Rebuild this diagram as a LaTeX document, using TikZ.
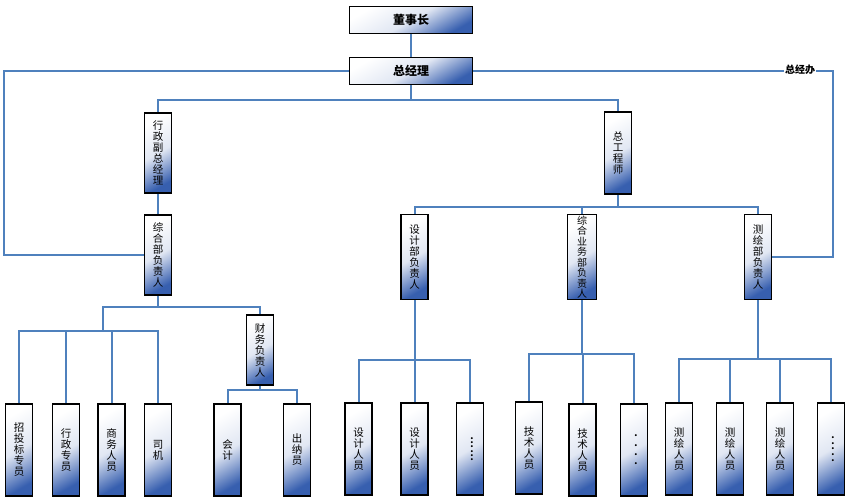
\documentclass[tikz,border=0pt]{standalone}
\usepackage{fontspec}
\newfontfamily\cjk{Noto Sans CJK SC}
\definecolor{xianlan}{RGB}{79,129,189}
\definecolor{jianlan}{RGB}{55,95,175}
\tikzset{
  kuang/.style={draw=black,line width=1.6pt,align=center,inner sep=0pt,
                top color=white,bottom color=jianlan,middle color=white!85!jianlan,
                shading angle=30,font=\cjk\fontsize{10.5}{11}\selectfont},
  hengkuang/.style={kuang,minimum width=123pt,minimum height=27pt,
                    font=\cjk\bfseries\fontsize{12}{14}\selectfont},
  shukuang/.style={kuang,minimum width=27pt,minimum height=#1},
  shukuang/.default=92pt,
  dian/.style={font=\rmfamily\bfseries\fontsize{14}{14}\selectfont},
  xian/.style={draw=xianlan,line width=2pt},
}

\begin{document}
\begin{tikzpicture}[x=1pt,y=-1pt]
  \useasboundingbox (0,0) rectangle (849,502);

  % ---------- VRH ----------
  \node[hengkuang] (dsz) at (411,20) {董事长};
  \node[hengkuang] (zjl) at (411,71) {总经理};

  % ---------- SREDNJI RED ----------
  \node[shukuang=80pt] (xzfz) at (158,153) {行\\政\\副\\总\\经\\理};
  \node[shukuang=80pt] (zhb)  at (158,255) {综\\合\\部\\负\\责\\人};
  \node[shukuang=82pt] (zgc)  at (618,153) {总\\工\\程\\师};
  \node[shukuang=85pt] (sjb)  at (414.5,257) {设\\计\\部\\负\\责\\人};
  \node[shukuang=85pt,minimum width=29pt,font=\cjk\fontsize{10}{10.5}\selectfont]
       (zyb) at (582,257) {综\\合\\业\\务\\部\\负\\责\\人};
  \node[shukuang=85pt] (chb)  at (758,257) {测\\绘\\部\\负\\责\\人};
  \node[shukuang=70pt] (cwfz) at (260,350) {财\\务\\负\\责\\人};

  % ---------- DONJI RED ----------
  \node[shukuang] (ztb)   at (19,450)    {招\\投\\标\\专\\员};
  \node[shukuang] (xzzy)  at (66,450)    {行\\政\\专\\员};
  \node[shukuang] (swry)  at (111.5,450) {商\\务\\人\\员};
  \node[shukuang] (siji)  at (158,450)   {司\\机};
  \node[shukuang] (kj)    at (227.5,450) {会\\计};
  \node[shukuang] (cny)   at (297,450)   {出\\纳\\员};
  \node[shukuang] (sjry1) at (358.5,449) {设\\计\\人\\员};
  \node[shukuang] (sjry2) at (414.5,449) {设\\计\\人\\员};
  \node[shukuang,dian] (sjdd) at (470,449)
       {\rotatebox{-90}{·\hspace{-8pt}·\hspace{-8pt}·\hspace{-8pt}·\hspace{-8pt}·\hspace{-8pt}·}};
  \node[shukuang] (jsry1) at (529,448)   {技\\术\\人\\员};
  \node[shukuang] (jsry2) at (582.5,450) {技\\术\\人\\员};
  \node[shukuang,dian] (jsdd) at (634,450)
       {\rotatebox{-90}{·\hspace{-3pt}·\hspace{-3pt}·\hspace{-3pt}·}};
  \node[shukuang] (chry1) at (679,449)   {测\\绘\\人\\员};
  \node[shukuang] (chry2) at (730,449)   {测\\绘\\人\\员};
  \node[shukuang] (chry3) at (780,449)   {测\\绘\\人\\员};
  \node[shukuang,dian] (chdd) at (831,449)
       {\rotatebox{-90}{·\hspace{-6.5pt}·\hspace{-6.5pt}·\hspace{-6.5pt}·\hspace{-6.5pt}·}};

  % ---------- CVOROVI ----------
  \coordinate (g1) at (411,100);
  \coordinate (g2) at (618,207);
  \coordinate (g3) at (158,307);
  \coordinate (g4) at (103,331);
  \coordinate (g5) at (260,390);
  \coordinate (g6) at (414.5,360);
  \coordinate (g7) at (582,354);
  \coordinate (g8) at (758,359);

  % ---------- VEZE ----------
  \draw[xian] (dsz) -- (zjl);
  \draw[xian] (zjl.west) -- ++(-345,0) |- (zhb.west);
  \draw[xian] (zjl.east) -- ++(360,0) |- (chb.east);
  \draw[xian] (zjl) -- (g1);
  \draw[xian] (xzfz.north) |- (g1) -| (zgc.north);
  \draw[xian] (xzfz) -- (zhb);

  \draw[xian] (zgc) -- (g2);
  \draw[xian] (sjb.north) |- (g2) -| (chb.north);
  \draw[xian] (zyb.north) -- (zyb.north |- g2);

  \draw[xian] (zhb) -- (g3);
  \draw[xian] (g4) |- (g3) -| (cwfz.north);
  \draw[xian] (ztb.north) |- (g4) -| (siji.north);
  \draw[xian] (xzzy.north) -- (xzzy.north |- g4);
  \draw[xian] (swry.north) -- (swry.north |- g4);

  \draw[xian] (cwfz) -- (g5);
  \draw[xian] (kj.north) |- (g5) -| (cny.north);

  \draw[xian] (sjb) -- (sjry2);
  \draw[xian] (sjry1.north) |- (g6) -| (sjdd.north);

  \draw[xian] (zyb) -- (g7);
  \draw[xian] (jsry1.north) |- (g7) -| (jsdd.north);
  \draw[xian] (jsry2.north) -- (jsry2.north |- g7);

  \draw[xian] (chb) -- (g8);
  \draw[xian] (chry1.north) |- (g8) -| (chdd.north);
  \draw[xian] (chry2.north) -- (chry2.north |- g8);
  \draw[xian] (chry3.north) -- (chry3.north |- g8);

  % ---------- NATPIS ----------
  \node[font=\cjk\bfseries\fontsize{10}{12}\selectfont,fill=white,inner sep=1pt]
       (zjb) at (800,70) {总经办};

\end{tikzpicture}
\end{document}
